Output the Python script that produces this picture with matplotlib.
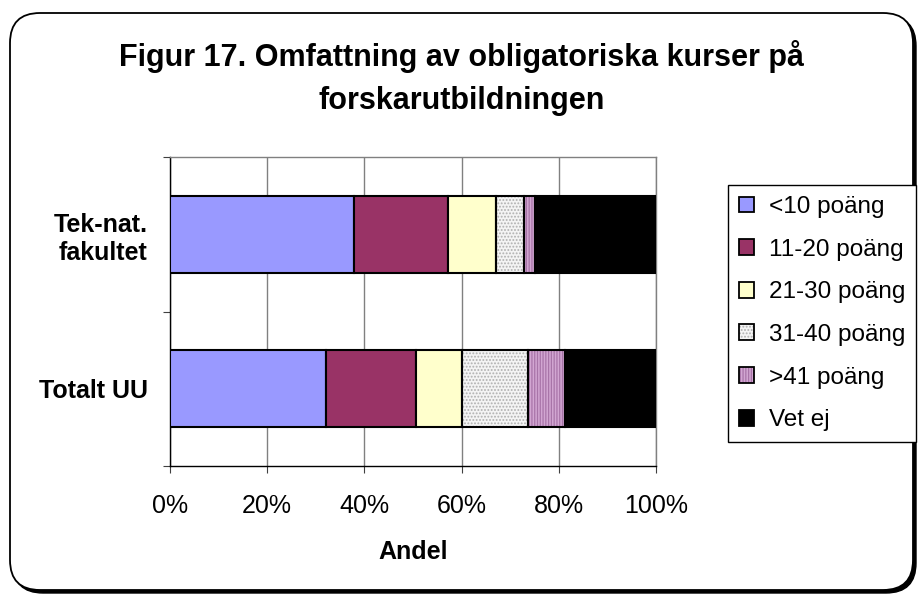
import matplotlib
matplotlib.use("Agg")
import matplotlib.pyplot as plt
from matplotlib.patches import FancyBboxPatch, Patch
from matplotlib.transforms import IdentityTransform
from matplotlib.ticker import FixedLocator, FuncFormatter
import numpy as np

plt.rcParams['font.family'] = ['Liberation Sans', 'DejaVu Sans']

categories = ["Tek-nat.\nfakultet", "Totalt UU"]
series_names = ["<10 poäng", "11-20 poäng", "21-30 poäng", "31-40 poäng", ">41 poäng", "Vet ej"]
values = {
    "<10 poäng":   [37.9, 32.1],
    "11-20 poäng": [19.2, 18.5],
    "21-30 poäng": [9.9, 9.5],
    "31-40 poäng": [5.8, 13.6],
    ">41 poäng":   [2.3, 7.6],
    "Vet ej":      [24.9, 18.7],
}
xticks = [0, 20, 40, 60, 80, 100]

face = ["#9999FF", "#993366", "#FFFFCC", "#F4F4F4", "#D2A6D2", "#000000"]
hatch = [None, None, None, ".....", "||||||", None]
hatch_col = [None, None, None, "#B0B0B0", "#A874A8", None]

fig = plt.figure(figsize=(9.2, 5.97), dpi=100)
# rounded outer frame with shadow
fig.add_artist(FancyBboxPatch((13, 4), 903, 577, boxstyle="round,pad=0,rounding_size=30",
                              transform=IdentityTransform(), facecolor="black", edgecolor="black",
                              linewidth=1, zorder=-3))
fig.add_artist(FancyBboxPatch((10, 7), 903, 577, boxstyle="round,pad=0,rounding_size=30",
                              transform=IdentityTransform(), facecolor="white", edgecolor="black",
                              linewidth=1.3, zorder=-2))

ax = fig.add_axes([170/920, 1-466/597, (656-170)/920, (466-157)/597])
ax.set_facecolor("none")
ypos = np.arange(len(categories))[::-1]
left = np.zeros(len(categories))
handles = []
plt.rcParams['hatch.linewidth'] = 0.9
for i, name in enumerate(series_names):
    v = np.array(values[name]) / 100.0
    if hatch[i]:
        ax.barh(ypos, v, left=left, height=0.5, color=face[i], hatch=hatch[i],
                edgecolor=hatch_col[i], linewidth=0, zorder=2)
        ax.barh(ypos, v, left=left, height=0.5, fill=False, edgecolor="black",
                linewidth=1.5, zorder=3)
        h = (Patch(facecolor=face[i], hatch=hatch[i], edgecolor=hatch_col[i], linewidth=0),
             Patch(fill=False, edgecolor="black", linewidth=1.3))
    else:
        ax.barh(ypos, v, left=left, height=0.5, color=face[i], edgecolor="black",
                linewidth=1.5, zorder=3)
        h = Patch(facecolor=face[i], edgecolor="black", linewidth=1.3)
    handles.append(h)
    left = left + v

ax.set_xlim(0, 1)
ax.set_ylim(-0.5, len(categories) - 0.5)
ax.xaxis.set_major_locator(FixedLocator([t/100 for t in xticks]))
ax.xaxis.set_major_formatter(FuncFormatter(lambda x, p: f"{int(round(x*100))}%"))
ax.tick_params(axis='x', direction='out', length=5, width=0.8, color="#404040",
               labelsize=18, pad=15)
ax.yaxis.set_major_locator(FixedLocator([-0.5, 0.5, 1.5]))
ax.yaxis.set_major_formatter(FuncFormatter(lambda x, p: ""))
ax.set_yticks(ypos, labels=categories, minor=True)
for lab in ax.get_yticklabels(minor=True):
    lab.set_fontweight("bold")
    lab.set_multialignment("right")
ax.tick_params(axis='y', which='major', direction='out', length=5, width=0.8, color="#404040")
ax.tick_params(axis='y', which='minor', length=0, labelsize=18, pad=16)

ax.grid(axis='x', color="#808080", linewidth=1, zorder=1)
ax.set_axisbelow(True)
for s in ["top", "right"]:
    ax.spines[s].set_color("#808080")
    ax.spines[s].set_linewidth(1)
for s in ["left", "bottom"]:
    ax.spines[s].set_color("black")
    ax.spines[s].set_linewidth(1)

ax.set_xlabel("Andel", fontsize=18, fontweight="bold", labelpad=16)

fig.text(462/920, 1-78/597, "Figur 17. Omfattning av obligatoriska kurser på\nforskarutbildningen",
         ha="center", va="center", fontsize=22, fontweight="bold", linespacing=1.55)

leg = fig.legend(handles, series_names, loc="upper left", bbox_to_anchor=(728/920, 1-185/597),
                 bbox_transform=fig.transFigure, borderaxespad=0, fontsize=17.5,
                 frameon=True, fancybox=False, edgecolor="black", framealpha=1,
                 handlelength=0.62, handleheight=0.62, handletextpad=0.6,
                 labelspacing=0.85, borderpad=0.45)
leg.get_frame().set_linewidth(1)

fig.savefig("out.png", dpi=100)
